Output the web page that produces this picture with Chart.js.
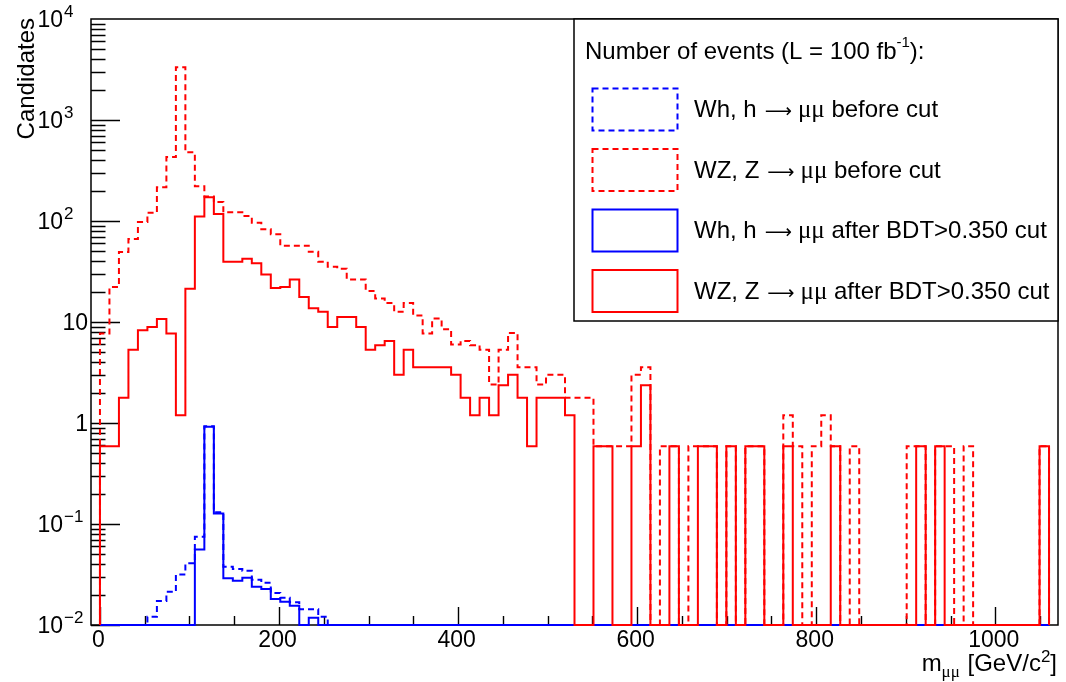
<!DOCTYPE html>
<html>
<head>
<meta charset="utf-8">
<script src="https://cdn.jsdelivr.net/npm/chart.js@4.4.1/dist/chart.umd.min.js"></script>
<style>
  html, body { margin: 0; padding: 0; background: #ffffff; }
  canvas { display: block; }
</style>
</head>
<body>
<canvas id="massChart" width="1066" height="682"></canvas>
<script>
// Dimuon invariant mass, 100 bins of 10.6 GeV/c^2 starting at 0.
const binLow = 0;
const binWidth = 10.6;

// Wh, h -> mumu before the BDT cut
const whBefore = [
  0, 0, 0, 0, 0, 0.0121, 0.0173, 0.0213, 0.0317, 0.0408,
  0.0747, 0.93, 0.131, 0.0378, 0.0358, 0.0344, 0.0280, 0.0262, 0.0208, 0.0186,
  0.0168, 0.0143, 0.0143, 0.0121, 0, 0, 0, 0, 0, 0,
  0, 0, 0, 0, 0, 0, 0, 0, 0, 0,
  0, 0, 0, 0, 0, 0, 0, 0, 0, 0,
  0, 0, 0, 0, 0, 0, 0, 0, 0, 0,
  0, 0, 0, 0, 0, 0, 0, 0, 0, 0,
  0, 0, 0, 0, 0, 0, 0, 0, 0, 0,
  0, 0, 0, 0, 0, 0, 0, 0, 0, 0,
  0, 0, 0, 0, 0, 0, 0, 0, 0, 0
];

// WZ, Z -> mumu before the BDT cut
const wzBefore = [
  7.7, 22.2, 49.2, 66.5, 97.5, 121, 216, 429, 3327, 480,
  221, 175, 154, 122, 122, 112, 96, 83, 74, 57,
  57, 57, 49.5, 39.5, 35.3, 33.7, 26.4, 26.4, 20.3, 17.1,
  15.4, 12.6, 15.4, 11.6, 7.7, 10.8, 8.5, 6.0, 6.5, 5.9,
  5.3, 2.4, 5.3, 7.8, 3.56, 3.56, 2.4, 3.0, 3.0, 1.78,
  1.78, 1.78, 0.59, 0.59, 0.59, 0.59, 3.0, 3.56, 0, 0.59,
  0.59, 0, 0.59, 0.59, 0.59, 0, 0.59, 0, 0.59, 0.59,
  0, 0, 1.19, 0.59, 0, 0.59, 1.19, 0.59, 0, 0.59,
  0, 0, 0, 0, 0, 0.59, 0.59, 0, 0.59, 0.59,
  0, 0.59, 0, 0, 0, 0, 0, 0, 0, 0.59
];

// Wh, h -> mumu after BDT > 0.350
const whAfter = [
  0, 0, 0, 0, 0, 0, 0, 0, 0, 0,
  0.056, 0.917, 0.127, 0.029, 0.0274, 0.0294, 0.0239, 0.0227, 0.0181, 0.0170,
  0.0155, 0, 0.0118, 0, 0, 0, 0, 0, 0, 0,
  0, 0, 0, 0, 0, 0, 0, 0, 0, 0,
  0, 0, 0, 0, 0, 0, 0, 0, 0, 0,
  0, 0, 0, 0, 0, 0, 0, 0, 0, 0,
  0, 0, 0, 0, 0, 0, 0, 0, 0, 0,
  0, 0, 0, 0, 0, 0, 0, 0, 0, 0,
  0, 0, 0, 0, 0, 0, 0, 0, 0, 0,
  0, 0, 0, 0, 0, 0, 0, 0, 0, 0
];

// WZ, Z -> mumu after BDT > 0.350
const wzAfter = [
  0.59, 0.59, 1.78, 5.3, 8.3, 8.9, 10.7, 7.7, 1.19, 21.3,
  111, 172, 117, 39.5, 39.5, 42.4, 38.1, 29.5, 21.7, 22.2,
  26.4, 17.7, 13.7, 12.6, 8.9, 11.2, 11.2, 8.9, 5.3, 5.9,
  6.5, 3.0, 5.3, 3.56, 3.56, 3.56, 3.56, 3.0, 1.78, 1.19,
  1.78, 1.19, 2.37, 3.0, 1.78, 0.59, 1.78, 1.78, 1.78, 1.19,
  0, 0, 0.59, 0.59, 0, 0, 0.59, 2.37, 0, 0,
  0.59, 0, 0, 0.59, 0.59, 0, 0.59, 0, 0.59, 0.59,
  0, 0, 0.59, 0, 0, 0, 0, 0.59, 0, 0,
  0, 0, 0, 0, 0, 0, 0.59, 0, 0.59, 0,
  0, 0, 0, 0, 0, 0, 0, 0, 0, 0.59
];

const xTickValues = [0, 200, 400, 600, 800, 1000];
const xTickLabels = ['0', '200', '400', '600', '800', '1000'];
const yDecades = [-2, -1, 0, 1, 2, 3, 4];

const legendTitle = 'Number of events (L = 100 fb';
const legendEntries = [
  { proc: 'Wh, h', cut: ' before cut', series: 'whBefore' },
  { proc: 'WZ, Z', cut: ' before cut', series: 'wzBefore' },
  { proc: 'Wh, h', cut: ' after BDT>0.350 cut', series: 'whAfter' },
  { proc: 'WZ, Z', cut: ' after BDT>0.350 cut', series: 'wzAfter' }
];

const X_MIN = -10, X_MAX = 1070;
const Y_MIN = 0.01, Y_MAX = 10000;
const RED = '#ff0000', BLUE = '#0000ff';
const DASH = [6, 4];
const SANS = '"Liberation Sans", Arial, Helvetica, sans-serif';
const SERIF = '"Liberation Serif", "Times New Roman", serif';
const ARROW_FONT = '19px "DejaVu Sans", sans-serif';

// Outline of a histogram: rises from the floor at the first edge,
// one horizontal step per bin, back down to the floor at the last edge.
function histogramPoints(values) {
  const pts = [{ x: binLow, y: Y_MIN }];
  values.forEach((v, i) => pts.push({ x: binLow + i * binWidth, y: Math.max(v, Y_MIN) }));
  const end = binLow + values.length * binWidth;
  pts.push({ x: end, y: Math.max(values[values.length - 1], Y_MIN) });
  pts.push({ x: end, y: Y_MIN });
  return pts;
}

const styles = {
  whBefore: { color: BLUE, dash: DASH },
  wzBefore: { color: RED, dash: DASH },
  whAfter: { color: BLUE, dash: [] },
  wzAfter: { color: RED, dash: [] }
};

function makeDataset(key, values) {
  return {
    label: key,
    data: histogramPoints(values),
    borderColor: styles[key].color,
    borderDash: styles[key].dash,
    borderWidth: 2,
    pointRadius: 0,
    fill: false,
    tension: 0,
    stepped: 'before',
    clip: 4
  };
}

function drawRuns(ctx, x, y, runs, align) {
  let total = 0;
  runs.forEach(r => {
    ctx.font = r.font;
    r.w = ctx.measureText(r.text).width + (r.gap || 0);
    total += r.w;
  });
  let cx = align === 'right' ? x - total : x;
  ctx.textAlign = 'left';
  ctx.textBaseline = 'alphabetic';
  runs.forEach(r => {
    ctx.font = r.font;
    ctx.fillText(r.text, cx + (r.pre || 0), y + (r.dy || 0));
    cx += r.w;
  });
}

const rootFrame = {
  id: 'rootFrame',
  beforeDatasetsDraw(chart) {
    const { ctx, chartArea: a, scales } = chart;
    const xs = scales.x, ys = scales.y;
    ctx.save();
    ctx.strokeStyle = '#000';
    ctx.lineWidth = 1.5;
    ctx.strokeRect(a.left, a.top, a.right - a.left, a.bottom - a.top);
    ctx.lineWidth = 1.4;
    ctx.beginPath();
    for (let v = 0; v <= 1050; v += 50) {
      const px = Math.round(xs.getPixelForValue(v)) + 0.5;
      const len = v % 200 === 0 ? 18 : 9;
      ctx.moveTo(px, a.bottom);
      ctx.lineTo(px, a.bottom - len);
    }
    for (let d = -2; d <= 3; d++) {
      for (let m = 1; m <= 9; m++) {
        const py = Math.round(ys.getPixelForValue(m * Math.pow(10, d))) + 0.5;
        const len = m === 1 ? 29 : 14.5;
        ctx.moveTo(a.left, py);
        ctx.lineTo(a.left + len, py);
      }
    }
    ctx.stroke();
    ctx.restore();
  },
  afterDatasetsDraw(chart) {
    const { ctx, chartArea: a, scales } = chart;
    const xs = scales.x, ys = scales.y;
    ctx.save();
    ctx.fillStyle = '#000';

    // x tick labels
    ctx.font = '23px ' + SANS;
    ctx.textAlign = 'center';
    ctx.textBaseline = 'alphabetic';
    xTickValues.forEach((v, i) => {
      ctx.fillText(xTickLabels[i], xs.getPixelForValue(v) - 1.5, 647);
    });

    // y tick labels
    yDecades.forEach(d => {
      const py = ys.getPixelForValue(Math.pow(10, d));
      if (d === 0 || d === 1) {
        ctx.font = '23px ' + SANS;
        ctx.textAlign = 'right';
        ctx.fillText(d === 0 ? '1' : '10', 88, py + 8);
      } else {
        ctx.font = '23px ' + SANS;
        ctx.textAlign = 'right';
        ctx.fillText('10', 63, py + 8);
        ctx.font = '17px ' + SANS;
        ctx.textAlign = 'left';
        ctx.fillText(d < 0 ? '\u2212' + (-d) : String(d), 64, py - 2);
      }
    });

    // axis titles
    drawRuns(ctx, 1057, 671, [
      { text: 'm', font: '24px ' + SANS },
      { text: '\u03bc\u03bc', font: '17px ' + SERIF, dy: 6, gap: 1 },
      { text: ' [GeV/c', font: '24px ' + SANS },
      { text: '2', font: '17px ' + SANS, dy: -9 },
      { text: ']', font: '24px ' + SANS }
    ], 'right');

    ctx.save();
    ctx.translate(34, 18);
    ctx.rotate(-Math.PI / 2);
    ctx.font = '24px ' + SANS;
    ctx.textAlign = 'right';
    ctx.textBaseline = 'alphabetic';
    ctx.fillText('Candidates', 0, 0);
    ctx.restore();

    // legend box
    const lx0 = 574, ly0 = a.top, lx1 = a.right, ly1 = 321;
    ctx.fillStyle = '#fff';
    ctx.fillRect(lx0, ly0, lx1 - lx0, ly1 - ly0);
    ctx.strokeStyle = '#000';
    ctx.lineWidth = 1.5;
    ctx.strokeRect(lx0, ly0, lx1 - lx0, ly1 - ly0);
    ctx.fillStyle = '#000';
    drawRuns(ctx, 585, 59, [
      { text: legendTitle, font: '24px ' + SANS },
      { text: '-1', font: '15px ' + SANS, dy: -12 },
      { text: '):', font: '24px ' + SANS }
    ], 'left');

    const rowCenters = [109.5, 170, 230.5, 291];
    legendEntries.forEach((e, i) => {
      const cy = rowCenters[i];
      const st = styles[e.series];
      ctx.save();
      ctx.strokeStyle = st.color;
      ctx.lineWidth = 2;
      ctx.setLineDash(st.dash);
      ctx.strokeRect(592.5, cy - 21, 85, 42);
      ctx.restore();
      ctx.fillStyle = '#000';
      drawRuns(ctx, 694, cy + 7.5, [
        { text: e.proc, font: '24px ' + SANS, gap: 8 },
        { text: '\u27f6', font: ARROW_FONT, gap: 6 },
        { text: '\u03bc\u03bc', font: '25px ' + SERIF },
        { text: e.cut, font: '24px ' + SANS }
      ], 'left');
    });
    ctx.restore();
  }
};

new Chart(document.getElementById('massChart'), {
  type: 'line',
  data: {
    datasets: [
      makeDataset('wzAfter', wzAfter),
      makeDataset('wzBefore', wzBefore),
      makeDataset('whAfter', whAfter),
      makeDataset('whBefore', whBefore)
    ]
  },
  options: {
    responsive: false,
    devicePixelRatio: 1,
    animation: false,
    events: [],
    layout: { padding: { left: 91, top: 19, right: 8, bottom: 57 } },
    plugins: { legend: { display: false }, tooltip: { enabled: false } },
    scales: {
      x: { type: 'linear', min: X_MIN, max: X_MAX, display: false },
      y: { type: 'logarithmic', min: Y_MIN, max: Y_MAX, display: false }
    }
  },
  plugins: [rootFrame]
});
</script>
</body>
</html>
